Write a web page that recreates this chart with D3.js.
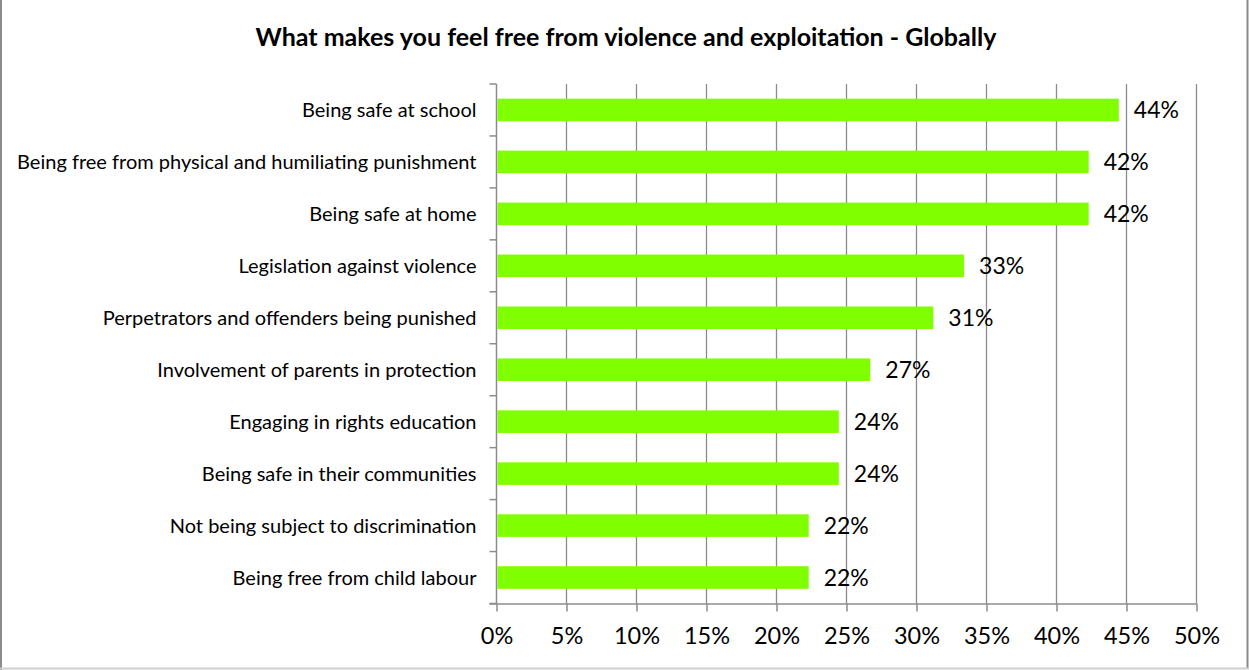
<!DOCTYPE html>
<html>
<head>
<meta charset="utf-8">
<script src="https://cdn.jsdelivr.net/npm/d3@7"></script>
<style>
  html, body { margin: 0; padding: 0; background: #fff; }
  svg { display: block; font-family: Lato, "Open Sans", sans-serif; }
</style>
</head>
<body>
<svg id="chart" width="1249" height="670"></svg>
<script>
// Survey answers, top to bottom
const categories = [
  "Being safe at school",
  "Being free from physical and humiliating punishment",
  "Being safe at home",
  "Legislation against violence",
  "Perpetrators and offenders being punished",
  "Involvement of parents in protection",
  "Engaging in rights education",
  "Being safe in their communities",
  "Not being subject to discrimination",
  "Being free from child labour"
];
// Share of respondents (percent)
const shares = [44.45, 42.3, 42.3, 33.4, 31.2, 26.7, 24.45, 24.45, 22.3, 22.3];
const xTicks = [0, 5, 10, 15, 20, 25, 30, 35, 40, 45, 50];
const title = "What makes you feel free from violence and exploitation - Globally";

const data = categories.map((c, i) => ({ category: c, value: shares[i] }));

const svg = d3.select("#chart");
const W = 1249, H = 670;
const plot = { left: 496.5, right: 1196.5, top: 84, bottom: 603.5 };

// chart frame
svg.append("line").attr("x1", 1).attr("x2", 1).attr("y1", 0).attr("y2", H)
  .attr("stroke", "#8a8a8a").attr("stroke-width", 2);
svg.append("line").attr("x1", W - 1.5).attr("x2", W - 1.5).attr("y1", 0).attr("y2", H - 1)
  .attr("stroke", "#8a8a8a").attr("stroke-width", 2);
svg.append("line").attr("x1", 0).attr("x2", W).attr("y1", H - 1.5).attr("y2", H - 1.5)
  .attr("stroke", "#cfcfcf").attr("stroke-width", 2);

const x = d3.scaleLinear().domain([0, 50]).range([plot.left, plot.right]);
const y = d3.scaleBand().domain(categories).range([plot.top, plot.bottom]).paddingInner(0.565).paddingOuter(0.2825);

// title
svg.append("text")
  .attr("x", 626).attr("y", 46)
  .attr("text-anchor", "middle")
  .attr("font-weight", "bold")
  .attr("font-size", 25)
  .attr("fill", "#000")
  .text(title);

// vertical gridlines
svg.append("g")
  .selectAll("line")
  .data(xTicks.filter(t => t > 0))
  .join("line")
  .attr("x1", d => x(d)).attr("x2", d => x(d))
  .attr("y1", plot.top).attr("y2", plot.bottom)
  .attr("stroke", "#8c8c8c").attr("stroke-width", 1.3);

// bars
svg.append("g")
  .selectAll("rect")
  .data(data)
  .join("rect")
  .attr("x", x(0) + 1)
  .attr("y", d => y(d.category))
  .attr("width", d => x(d.value) - x(0) - 1)
  .attr("height", y.bandwidth())
  .attr("fill", "#80ff00");

// bottom axis
const xAxis = svg.append("g")
  .attr("transform", `translate(0,${plot.bottom})`)
  .call(d3.axisBottom(x).tickValues(xTicks).tickSize(8).tickPadding(16).tickFormat(d => d + "%"));
xAxis.select(".domain").attr("stroke", "#8c8c8c").attr("stroke-width", 1.5)
  .attr("d", `M${plot.left - 7},0.5H${plot.right}`);
xAxis.selectAll(".tick line").attr("stroke", "#8c8c8c").attr("stroke-width", 1.5);
xAxis.selectAll(".tick text").attr("font-size", 23.5).attr("fill", "#000")
  .attr("font-family", "Lato, sans-serif");

// left axis with ticks at band boundaries
const yAxis = svg.append("g").attr("transform", `translate(${plot.left},0)`);
yAxis.append("line").attr("x1", 0).attr("x2", 0).attr("y1", plot.top).attr("y2", plot.bottom)
  .attr("stroke", "#8c8c8c").attr("stroke-width", 1.5);
yAxis.selectAll("line.tk")
  .data(d3.range(categories.length + 1))
  .join("line").attr("class", "tk")
  .attr("x1", -7).attr("x2", 0)
  .attr("y1", i => plot.top + i * (plot.bottom - plot.top) / categories.length)
  .attr("y2", i => plot.top + i * (plot.bottom - plot.top) / categories.length)
  .attr("stroke", "#8c8c8c").attr("stroke-width", 1.5);

// category labels
svg.append("g")
  .selectAll("text")
  .data(data)
  .join("text")
  .attr("x", plot.left - 20)
  .attr("y", d => y(d.category) + y.bandwidth() / 2)
  .attr("dy", "0.35em")
  .attr("text-anchor", "end")
  .attr("font-size", 20)
  .attr("fill", "#000")
  .text(d => d.category);

// value labels
svg.append("g")
  .selectAll("text")
  .data(data)
  .join("text")
  .attr("x", d => x(d.value) + 15)
  .attr("y", d => y(d.category) + y.bandwidth() / 2)
  .attr("dy", "0.37em")
  .attr("font-size", 23)
  .attr("fill", "#000")
  .text(d => Math.round(d.value) + "%");
</script>
</body>
</html>
